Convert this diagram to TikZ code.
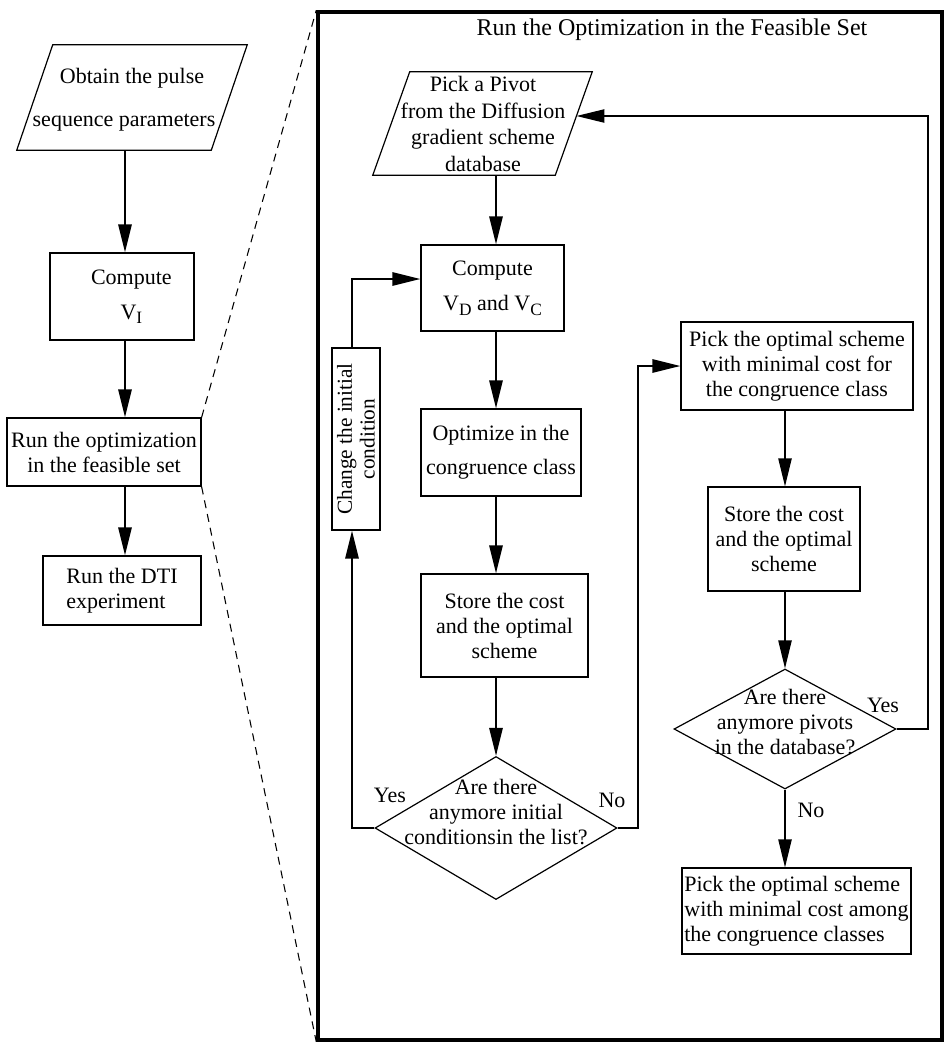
\documentclass[tikz,border=0pt]{standalone}
\usepackage{fontspec}
\setmainfont{Liberation Serif}
\usetikzlibrary{arrows.meta,shapes.geometric,calc}
\newcommand\sbx[1]{\raisebox{-0.45ex}{\fontsize{13}{13}\selectfont #1}}
\begin{document}
\begin{tikzpicture}[x=0.75pt, y=-0.75pt,
  font=\fontsize{16.5}{18.75}\selectfont,
  box/.style={draw, line width=0.9pt, inner sep=0pt, align=center},
  pbody/.style={inner sep=0pt, rectangle},
  pline/.style={line width=0.9pt, line join=miter},
  dia/.style={draw, line width=0.9pt, inner sep=0.5pt, diamond},
  txt/.style={inner sep=0pt, align=center},
  marr/.style={line width=1.4pt, -{Triangle[length=21pt,width=10pt]}},
  rarr/.style={line width=0.9pt, -{Triangle[length=21pt,width=10pt]}},
  dsh/.style={line width=0.8pt, dash pattern=on 6pt off 4.5pt}]
\useasboundingbox (0,0) rectangle (951,1050);
% helper coordinates
\coordinate (lx) at (125,0);
\coordinate (mx) at (496,0);
\coordinate (rx) at (785,0);
\coordinate (lc) at (352,0);
\coordinate (cy) at (0,279);
\coordinate (nc) at (638,0);
\coordinate (yc) at (928,0);
% left column
\node[pbody, minimum width=145.5pt, minimum height=78.75pt] (obtain) at (132,97.5) {};
\draw[pline] ($(obtain.south west)+(-18,0)$) -- ($(obtain.south east)+(-18,0)$)
  -- ($(obtain.north east)+(18,0)$) -- ($(obtain.north west)+(18,0)$) -- cycle;
\node[txt] (obtaint) at (124,100) {\hspace*{12pt}Obtain the pulse\\[13.5pt]sequence parameters};
\node[box, minimum width=108pt, minimum height=65.25pt] (compute) at (122,296.5) {\hspace*{14pt}Compute\\[7.5pt]\hspace*{14pt}V\sbx{I}};
\node[box, minimum width=145.5pt, minimum height=51pt] (runopt) at (104,452) {Run the optimization\\in the feasible set};
\node[box, align=left, minimum width=118.5pt, minimum height=51.75pt] (rundti) at (122,590.5) {Run the DTI\\experiment};
\draw[marr] (obtain.south -| lx) -- (compute.north -| lx);
\draw[marr] (compute.south -| lx) -- (runopt.north -| lx);
\draw[marr] (runopt.south -| lx) -- (rundti.north -| lx);
% frame
\node[draw, line width=2.6pt, minimum width=468pt, minimum height=771pt] (frame) at (630,526) {};
\node[txt] (title) at (672,30) {\fontsize{18}{21}\selectfont Run the Optimization in the Feasible Set};
\draw[dsh] (runopt.north east) -- (frame.north west);
\draw[dsh] (runopt.south east) -- (frame.south west);
% middle column
\node[pbody, minimum width=136.5pt, minimum height=77.25pt] (pivot) at (482.5,123.5) {};
\draw[pline] ($(pivot.south west)+(-18.5,0)$) -- ($(pivot.south east)+(-18.5,0)$)
  -- ($(pivot.north east)+(18.5,0)$) -- ($(pivot.north west)+(18.5,0)$) -- cycle;
\coordinate (pivr) at ($(pivot.east)+(2.7,-7.5)$);
\node[txt] (pivott) at (483,124) {Pick a Pivot\\[1.25pt]from the Diffusion\\[1.25pt]gradient scheme\\[1.25pt]database};
\node[box, minimum width=107.25pt, minimum height=64.5pt] (cvd) at (492.5,288) {Compute\\[8pt]V\sbx{D} and V\sbx{C}};
\node[box, minimum width=120pt, minimum height=65.25pt] (optc) at (501,452.5) {Optimize in the\\[7pt]congruence class};
\node[box, minimum width=125.25pt, minimum height=77.25pt] (store1) at (504.5,625.5) {Store the cost\\and the optimal\\scheme};
\node[dia, minimum width=181.5pt, minimum height=107.25pt] (d1) at (496,828) {\phantom{x}};
\node[txt] (d1t) at (496,812) {Are there\\anymore initial\\conditionsin the list?};
\node[box, rotate=90, font=\fontsize{16}{17}\selectfont, minimum width=136.5pt, minimum height=36pt] (change) at (356,439) {Change the initial\\condition};
\node[txt] (yes1) at (390,795) {Yes};
\node[txt] (no1) at (612,800) {No};
% right column
\node[box, minimum width=174pt, minimum height=66pt] (r1) at (797,366) {Pick the optimal scheme\\with minimal cost for\\the congruence class};
\node[box, minimum width=114pt, minimum height=78pt] (r2) at (784,539) {Store the cost\\and the optimal\\scheme};
\node[dia, minimum width=166.5pt, minimum height=90pt] (d2) at (785,729) {\phantom{x}};
\node[txt] (d2t) at (785,722) {Are there\\anymore pivots\\in the database?};
\node[box, align=left, minimum width=171.75pt, minimum height=64.5pt] (r3) at (796.5,911) {Pick the optimal scheme\\with minimal cost among\\the congruence classes};
\node[txt] (yes2) at (883,705) {Yes};
\node[txt] (no2) at (811,810) {No};
% middle connectors
\draw[marr] (pivot.south -| mx) -- (cvd.north -| mx);
\draw[marr] (cvd.south -| mx) -- (optc.north -| mx);
\draw[marr] (optc.south -| mx) -- (store1.north -| mx);
\draw[marr] (store1.south -| mx) -- (d1.north);
\draw[marr] (d1.west) -| (change.west -| lc);
\draw[marr] (change.east -| lc) |- (cvd.west |- cy);
\draw[marr] (d1.east) -- (d1.east -| nc) |- (r1.west);
% right connectors
\draw[rarr] (r1.south -| rx) -- (r2.north -| rx);
\draw[rarr] (r2.south -| rx) -- (d2.north);
\draw[rarr] (d2.east) -- (d2.east -| yc) |- (pivr);
\draw[rarr] (d2.south) -- (r3.north -| rx);
\end{tikzpicture}
\end{document}
